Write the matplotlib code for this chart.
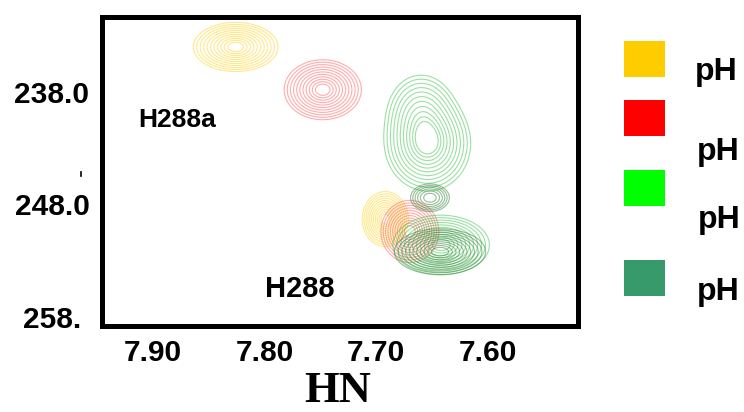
import numpy as np
import matplotlib
matplotlib.use("Agg")
import matplotlib.pyplot as plt
from matplotlib.patches import Rectangle
from matplotlib.lines import Line2D

# ---- data: peak lists per spectrum (HN ppm, N ppm, sigma HN, sigma N, amplitude)
ph1_x = [7.826, 7.692]
ph1_y = [234.0, 249.3]
ph1_sx = [0.0158, 0.0086]
ph1_sy = [0.91, 1.02]
ph1_a = [1.0, 1.0]

ph2_x = [7.748, 7.670]
ph2_y = [237.8, 250.4]
ph2_sx = [0.0144, 0.0108]
ph2_sy = [1.11, 1.15]
ph2_a = [1.0, 1.0]

ph3_x = [7.654, 7.660, 7.642]
ph3_y = [242.6, 239.8, 251.6]
ph3_sx = [0.0160, 0.0140, 0.018]
ph3_sy = [1.75, 1.6, 1.1]
ph3_a = [1.0, 0.45, 1.0]

ph4_x = [7.643, 7.652]
ph4_y = [252.2, 247.4]
ph4_sx = [0.0170, 0.0085]
ph4_sy = [0.85, 0.60]
ph4_a = [1.0, 0.45]

legend_colors = ["#FFCC00", "#FF0000", "#00FF00", "#379A6A"]
legend_labels = ["pH", "pH", "pH", "pH"]

x_ticks = [7.90, 7.80, 7.70, 7.60]
x_ticklabels = ["7.90", "7.80", "7.70", "7.60"]
y_ticks = [238.0, 248.0, 258.0]
y_ticklabels = ["238.0", "248.0", "258."]

peak_labels = ["H288a", "H288"]
peak_label_x = [7.913, 7.800]
peak_label_y = [241.1, 256.2]

# ---- grid
hx = np.linspace(7.50, 7.96, 500)
ny = np.linspace(230.5, 259.5, 500)
X, Y = np.meshgrid(hx, ny)


def spectrum(xs, ys, sxs, sys_, amps):
    Z = np.zeros_like(X)
    for x0, y0, sx, sy, a in zip(xs, ys, sxs, sys_, amps):
        Z += a * np.exp(-0.5 * (((X - x0) / sx) ** 2 + ((Y - y0) / sy) ** 2))
    return Z


# evenly spaced rings on a gaussian
ring_r = np.linspace(0.45, 2.4, 11)
levels = np.sort(np.exp(-0.5 * ring_r ** 2))

fig = plt.figure(figsize=(7.44, 4.12), dpi=100)
ax = fig.add_axes([102 / 744, 1 - 325.5 / 412, 476 / 744, 309 / 412])

specs = [
    (ph1_x, ph1_y, ph1_sx, ph1_sy, ph1_a, "#FFCC00", 0.45, 0.8),
    (ph2_x, ph2_y, ph2_sx, ph2_sy, ph2_a, "#FF3030", 0.40, 0.8),
    (ph3_x, ph3_y, ph3_sx, ph3_sy, ph3_a, "#22BB33", 0.45, 0.8),
    (ph4_x, ph4_y, ph4_sx, ph4_sy, ph4_a, "#2E7D32", 0.50, 0.8),
]
for xs, ys, sxs, sys_, amps, col, al, lw in specs:
    Z = spectrum(xs, ys, sxs, sys_, amps)
    ax.contour(X, Y, Z, levels=levels, colors=col, alpha=al, linewidths=lw)

ax.set_xlim(7.9457, 7.5194)
ax.set_ylim(258.76, 231.29)

ax.set_xticks(x_ticks)
ax.set_xticklabels(x_ticklabels, fontsize=21.5, fontweight="bold",
                   family="Liberation Sans")
ax.set_yticks(y_ticks)
ax.set_yticklabels(y_ticklabels, fontsize=21.5, fontweight="bold",
                   family="Liberation Sans", ha="center")
ax.tick_params(axis="x", length=0, pad=10)
ax.tick_params(axis="y", length=0, pad=36)
for s in ax.spines.values():
    s.set_linewidth(3.6)
    s.set_color("black")

for lab, lx, ly, fs in zip(peak_labels, peak_label_x, peak_label_y, [19, 21]):
    ax.text(lx, ly, lab, fontsize=fs, fontweight="bold", family="Liberation Sans",
            ha="left", va="baseline")

ax.set_xlabel("HN", fontsize=32, fontweight="bold", family="Liberation Serif",
              labelpad=0)
ax.xaxis.set_label_coords(0.496, -0.277)
ax.xaxis.label.set_va("bottom")

# legend
sq_top = [41, 100, 170, 260]
txt_base = [80, 160, 228, 300]
txt_left = [695, 697, 698, 697]
for c, lab, t, b, tl in zip(legend_colors, legend_labels, sq_top, txt_base, txt_left):
    fig.patches.append(Rectangle((624 / 744, 1 - (t + 36) / 412), 41 / 744, 36 / 412,
                                 transform=fig.transFigure, color=c, lw=0))
    fig.text(tl / 744, 1 - b / 412, lab, fontsize=23, fontweight="bold",
             family="Liberation Sans", ha="left", va="baseline")

# small stray mark
fig.add_artist(Line2D([80.7 / 744, 80.7 / 744], [1 - 172 / 412, 1 - 176 / 412],
                      transform=fig.transFigure, color="black", lw=1.2))

fig.savefig("out.png", dpi=100, facecolor="white")
